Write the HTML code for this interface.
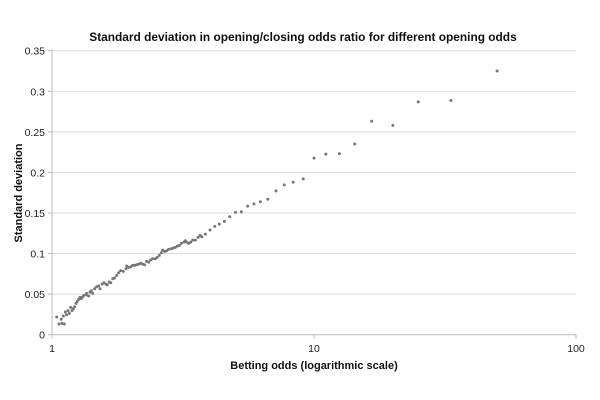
<!DOCTYPE html>
<html><head><meta charset="utf-8"><style>
body{margin:0;background:#fff;}
svg{display:block;font-family:"Liberation Sans",Arial,sans-serif;}
</style></head><body>
<svg id="chart" width="600" height="400" viewBox="0 0 600 400">
<text x="303" y="41" text-anchor="middle" font-size="11.9" font-weight="bold" fill="#111">Standard deviation in opening/closing odds ratio for different opening odds</text>
<text transform="translate(22,193) rotate(-90)" text-anchor="middle" font-size="11" font-weight="bold" fill="#111">Standard deviation</text>
<text x="314" y="369" text-anchor="middle" font-size="11" font-weight="bold" fill="#111">Betting odds (logarithmic scale)</text>
<g id="grid"></g><g id="axes"></g><g id="points"></g>
</svg>
<script>
const yTicks=[0,0.05,0.1,0.15,0.2,0.25,0.3,0.35];
const yTickLabels=["0","0.05","0.1","0.15","0.2","0.25","0.3","0.35"];
const xTicks=[1,10,100];
const xTickLabels=["1","10","100"];
const odds=[1.042,1.063,1.085,1.092,1.105,1.115,1.124,1.137,1.151,1.165,1.178,1.192,1.206,1.220,1.235,1.249,1.264,1.279,1.294,1.309,1.324,1.349,1.356,1.380,1.396,1.413,1.430,1.455,1.480,1.507,1.525,1.553,1.579,1.607,1.626,1.655,1.675,1.706,1.735,1.766,1.796,1.828,1.871,1.916,1.928,1.962,1.996,2.032,2.069,2.105,2.143,2.180,2.219,2.255,2.296,2.337,2.379,2.421,2.478,2.522,2.567,2.613,2.644,2.691,2.738,2.787,2.852,2.903,2.955,3.007,3.061,3.115,3.189,3.227,3.266,3.325,3.384,3.445,3.527,3.611,3.673,3.73,3.85,4.01,4.18,4.35,4.55,4.77,5.02,5.28,5.58,5.9,6.24,6.66,7.16,7.7,8.33,9.1,10,11.1,12.5,14.3,16.6,20,25,33.3,50];
const stdDev=[0.0218,0.0132,0.019,0.014,0.023,0.0132,0.028,0.0246,0.0296,0.0263,0.0337,0.0296,0.032,0.0345,0.0386,0.041,0.0436,0.046,0.0443,0.0468,0.0485,0.0493,0.051,0.0477,0.0526,0.0542,0.051,0.0567,0.0591,0.06,0.0567,0.0624,0.064,0.0624,0.0616,0.0649,0.064,0.069,0.0698,0.0731,0.0764,0.0788,0.078,0.0813,0.0846,0.083,0.0837,0.0854,0.0854,0.0862,0.087,0.0879,0.087,0.0862,0.0903,0.0895,0.092,0.0936,0.0936,0.0953,0.0978,0.101,0.1043,0.1027,0.1034,0.1051,0.1059,0.1068,0.1076,0.1092,0.11,0.1125,0.1141,0.1158,0.1141,0.1125,0.1141,0.1166,0.1166,0.1199,0.1224,0.1207,0.124,0.129,0.1335,0.1363,0.1397,0.1453,0.1507,0.1515,0.1585,0.1613,0.1638,0.167,0.1773,0.1847,0.188,0.192,0.2176,0.2225,0.223,0.235,0.263,0.258,0.287,0.2887,0.325];
const NS="http://www.w3.org/2000/svg";
const X0=52,X1=576,Y0=334.7,Y1=50.7;
function xs(v){return X0+(Math.log10(v)-0)/2*(X1-X0);}
function ys(v){return Y0-v/0.35*(Y0-Y1);}
function mk(tag,attrs,parent){const e=document.createElementNS(NS,tag);for(const k in attrs)e.setAttribute(k,attrs[k]);parent.appendChild(e);return e;}
const grid=document.getElementById('grid'),axes=document.getElementById('axes'),pts=document.getElementById('points');
yTicks.forEach((t,i)=>{
  const y=ys(t);
  if(t>0){const g=mk('line',{x1:X0,x2:X1,y1:y,y2:y,stroke:'#dcdcdc','stroke-width':1},grid);
  
  }
  const tk=mk('line',{x1:X0-4,x2:X0,y1:y,y2:y,stroke:'#bbb'},axes);
  
  
  const l=mk('text',{x:45,y:y+4,'text-anchor':'end','font-size':10.5,fill:'#222'},axes);
  l.textContent=yTickLabels[i];
  
  
});
const ya=mk('line',{x1:X0,x2:X0,y1:Y1-2,y2:Y0,stroke:'#bbb'},axes);


const xa=mk('line',{x1:X0,x2:X1,y1:Y0,y2:Y0,stroke:'#bbb'},axes);


xTicks.forEach((t,i)=>{
  const x=xs(t);
  const tk=mk('line',{x1:x,x2:x,y1:Y0,y2:Y0+4,stroke:'#bbb'},axes);
  
  
  const l=mk('text',{x:x,y:352,'text-anchor':'middle','font-size':10.5,fill:'#222'},axes);
  l.textContent=xTickLabels[i];
  
  
});
odds.forEach((o,i)=>{
  const c=mk('circle',{cx:xs(o),cy:ys(stdDev[i]),r:1.5,fill:'#777'},pts);
  
  
});
</script>
</body></html>
